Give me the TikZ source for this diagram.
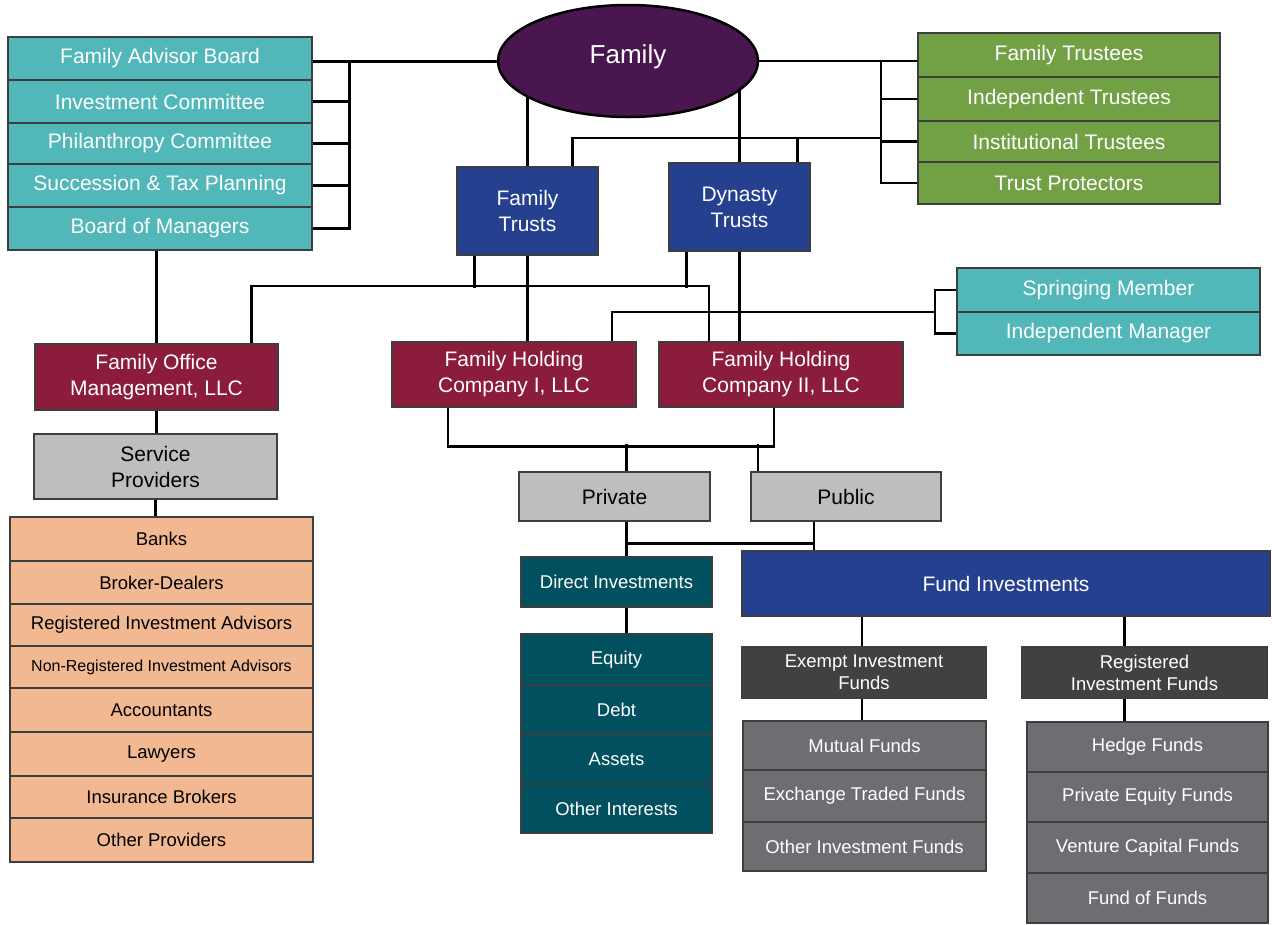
\documentclass[tikz,border=0pt]{standalone}
\usepackage{fontspec}
\setmainfont{Liberation Sans}
\usetikzlibrary{shapes.geometric}
\pgfdeclarelayer{background}
\pgfsetlayers{background,main}
\definecolor{plum}{HTML}{4A1650}
\definecolor{boardteal}{HTML}{52B7B8}
\definecolor{trustgreen}{HTML}{72A045}
\definecolor{trustblue}{HTML}{25408F}
\definecolor{wine}{HTML}{8B1C3C}
\definecolor{paleGrey}{HTML}{BCBEC0}
\definecolor{peach}{HTML}{F1B892}
\definecolor{deepteal}{HTML}{00505F}
\definecolor{charcoal}{HTML}{414042}
\definecolor{slate}{HTML}{6D6E71}
\definecolor{edgegrey}{HTML}{3E3E3E}
\newcommand\titletype{\fontsize{26}{30}\selectfont}
\newcommand\largetype{\fontsize{21}{26}\selectfont}
\newcommand\smalltype{\fontsize{18.5}{22}\selectfont}
\newcommand\tinytype{\fontsize{16}{19}\selectfont}
\tikzset{
  box/.style={draw=edgegrey, line width=2.5pt, align=center, inner sep=1pt},
  teal row/.style={box, fill=boardteal, text=white, font=\largetype},
  green row/.style={box, fill=trustgreen, text=white, font=\largetype},
  trust/.style={box, fill=trustblue, text=white, font=\largetype},
  llc/.style={box, fill=wine, text=white, font=\largetype},
  grey box/.style={box, fill=paleGrey, text=black, font=\largetype},
  peach row/.style={box, fill=peach, text=black, font=\smalltype},
  direct row/.style={box, fill=deepteal, text=white, font=\smalltype},
  fund head/.style={box, fill=charcoal, text=white, font=\smalltype},
  fund row/.style={box, fill=slate, text=white, font=\smalltype},
  wire/.style={draw=black, line width=2.5pt}
}

\begin{document}
\begin{tikzpicture}[x=1pt, y=-1pt]
\useasboundingbox (0,0) rectangle (1272,924);
% family and its boards
\node[ellipse, draw=black, line width=2.5pt, fill=plum, text=white, font=\titletype,
  minimum width=260, minimum height=112, inner sep=0pt] (fam) at (628,61) {\raisebox{13pt}{Family}};
\foreach \n/\y/\h/\t in {%
  fab/58.5/43/Family Advisor Board,
  ic/101.5/43/Investment Committee,
  pc/143.5/41/Philanthropy Committee,
  stp/185.5/43/Succession \& Tax Planning,
  bom/228.5/43/Board of Managers%
} \node[teal row, minimum width=304, minimum height=\h] (\n) at (160,\y) {\t};
\foreach \n/\y/\h/\t in {%
  ft/55/44/Family Trustees,
  it/99/44/Independent Trustees,
  ist/141.5/41/Institutional Trustees,
  tp/183/42/Trust Protectors%
} \node[green row, minimum width=302, minimum height=\h] (\n) at (1069,\y) {\t};
\node[trust, minimum width=141, minimum height=88] (ftr) at (527.5,211) {Family\\Trusts};
\node[trust, minimum width=141, minimum height=88] (dtr) at (739.5,207) {Dynasty\\Trusts};

% companies
\node[llc, minimum width=243, minimum height=66] (fom) at (156.5,377) {Family Office\\Management, LLC};
\node[llc, minimum width=244, minimum height=65] (fh1) at (514,374.5) {Family Holding\\Company I, LLC};
\node[llc, minimum width=244, minimum height=65] (fh2) at (781,374.5) {Family Holding\\Company II, LLC};
\node[teal row, minimum width=303, minimum height=44] (sm) at (1108.5,290) {Springing Member};
\node[teal row, minimum width=303, minimum height=43] (im) at (1108.5,333.5) {Independent Manager};

% service providers
\node[grey box, minimum width=243, minimum height=65] (sp) at (155.5,466.5) {Service\\Providers};
\foreach \n/\y/\h/\t in {%
  banks/539/44/Banks,
  bd/582.5/43/Broker-Dealers,
  ria/625/42/Registered Investment Advisors,
  nria/667/42/{\tinytype Non-Registered Investment Advisors},
  acc/710/44/Accountants,
  law/754/44/Lawyers,
  ib/797/42/Insurance Brokers,
  op/840/44/Other Providers%
} \node[peach row, minimum width=303, minimum height=\h] (\n) at (161.5,\y) {\t};

% investments
\node[grey box, minimum width=191, minimum height=49] (pri) at (614.5,496.5) {Private};
\node[grey box, minimum width=190, minimum height=49] (pub) at (846,496.5) {Public};
\node[direct row, minimum width=191, minimum height=50] (dir) at (616.5,582) {Direct Investments};
\foreach \n/\y/\h/\t in {%
  eq/659.5/51/Equity,
  debt/709.5/49/Debt,
  ast/759/50/Assets,
  oi/808.5/49/Other Interests%
} \node[direct row, minimum width=191, minimum height=\h] (\n) at (616.5,\y) {\t};
\node[box, fill=trustblue, text=white, font=\largetype, minimum width=528, minimum height=65] (fi) at (1006,583.5) {Fund Investments};
\node[fund head, minimum width=244, minimum height=51] (ex) at (864,672.5) {Exempt Investment\\Funds};
\node[fund head, minimum width=245, minimum height=51] (reg) at (1144.5,672.5) {Registered\\Investment Funds};
\foreach \n/\y/\h/\t in {%
  mf/745.5/49/Mutual Funds,
  etf/796/52/Exchange Traded Funds,
  oif/846.5/49/Other Investment Funds%
} \node[fund row, minimum width=243, minimum height=\h] (\n) at (864.5,\y) {\t};
\foreach \n/\y/\h/\t in {%
  hf/747/50/Hedge Funds,
  pef/797/50/Private Equity Funds,
  vcf/847.5/51/Venture Capital Funds,
  fof/898/50/Fund of Funds%
} \node[fund row, minimum width=241, minimum height=\h] (\n) at (1147.5,\y) {\t};

\begin{pgfonlayer}{background}
% boards and trustees
\draw[wire] ([yshift=-3pt]fab.east) -- ([yshift=-3pt]fab.east -| fam.center);
\draw[wire] ([yshift=-3pt]fab.east) -| ([xshift=36pt]bom.east) -- (bom.east);
\foreach \n in {ic,pc,stp} \draw[wire] (\n.east) -- ++(36,0);
\draw[wire] (fam.center) -- (fam.center -| ft.west);
\draw[wire] (fam.center -| ft.west) ++(-36,0) |- (tp.west);
\foreach \n in {it,ist} \draw[wire] (\n.west) -- ++(-36,0);
\coordinate (tbar) at (882,138);
\draw[wire] (tbar) -| ([xshift=45pt]ftr.north);
\draw[wire] ([xshift=58pt]dtr.north) -- ++(0,-25);
\draw[wire] (ftr.north) -- (ftr.north |- fam.center);
\draw[wire] (dtr.north) -- (dtr.north |- fam.center);
% trusts to companies
\draw[wire] (bom.south -| fom.north) -- (fom.north);
\draw[wire] ([xshift=95pt]fom.north) -- ++(0,-57) -| ([xshift=-72pt]fh2.north);
\draw[wire] ([xshift=-53pt]ftr.south) -- ++(0,32);
\draw[wire] ([xshift=-53pt]dtr.south) -- ++(0,36);
\draw[wire] (ftr.south) -- (ftr.south |- fh1.north);
\draw[wire] (dtr.south) -- (dtr.south |- fh2.north);
\draw[wire] ([xshift=98pt]fh1.north) -- ++(0,-29) -| ([xshift=-21pt]sm.west) -- (sm.west);
\draw[wire] ([xshift=-21pt]sm.west) |- (im.west);
% providers
\draw[wire] (fom.south) -- (fom.south |- sp.north);
\draw[wire] (sp.south) -- (sp.south |- banks.north);
% investments
\draw[wire] ([xshift=-66pt]fh1.south) -- ++(0,38) -| ([xshift=-7pt]fh2.south);
\draw[wire] ([xshift=12pt]pri.north) -- ++(0,-27);
\draw[wire] ([xshift=-88pt]pub.north) -- ++(0,-27);
\draw[wire] ([xshift=12pt]pri.south) -- ++(0,21) -| ([xshift=-32pt]pub.south);
\draw[wire] ([xshift=12pt]pri.south) -- ++(0,36);
\draw[wire] ([xshift=-32pt]pub.south) -- ++(0,30);
\draw[wire] ([xshift=10pt]dir.south) -- ++(0,27);
\draw[wire] ([xshift=-2pt]ex.north) -- ++(0,-31);
\draw[wire] ([xshift=-20pt]reg.north) -- ++(0,-31);
\draw[wire] ([xshift=-2pt]ex.south) -- ++(0,23);
\draw[wire] ([xshift=-20pt]reg.south) -- ++(0,24);
\end{pgfonlayer}
\end{tikzpicture}
\end{document}
